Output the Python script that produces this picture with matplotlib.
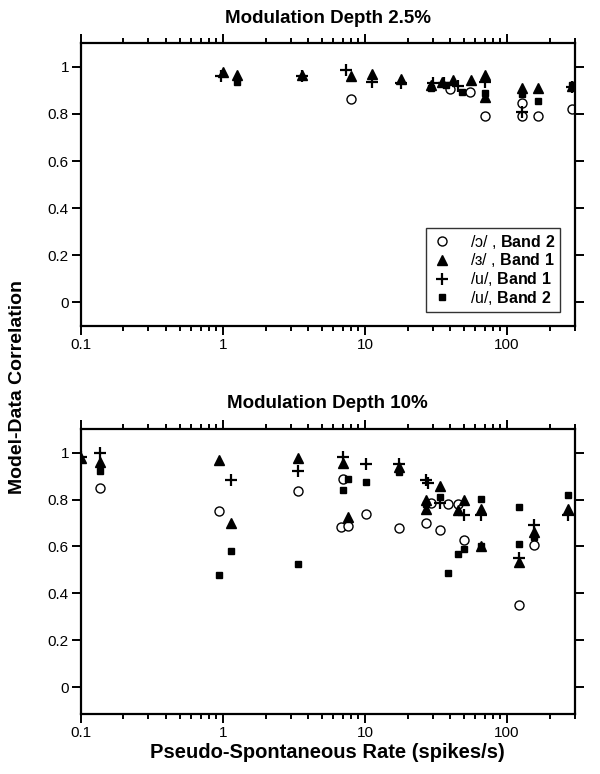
#!/usr/bin/env python3
'''
Model-data correlation vs pseudo-spontaneous rate, two modulation depths
'''
import matplotlib
matplotlib.use('Agg')
import matplotlib.pyplot as plt
from matplotlib.ticker import FixedLocator, LogLocator, NullFormatter, FuncFormatter

plt.rcParams['font.family'] = ['Liberation Sans', 'DejaVu Sans']
plt.rcParams['mathtext.fontset'] = 'custom'
plt.rcParams['mathtext.rm'] = 'Liberation Sans'
plt.rcParams['mathtext.bf'] = 'Liberation Sans:bold'

# Modulation depth 2.5%
top_o2_x = [8.0, 40, 55, 70, 128, 128, 165, 285]
top_o2_y = [0.864, 0.905, 0.895, 0.79, 0.845, 0.79, 0.79, 0.82]
top_e1_x = [1.0, 1.25, 3.6, 8.0, 11.3, 18, 29, 35, 42, 56, 70, 70, 128, 165, 285]
top_e1_y = [0.98, 0.965, 0.965, 0.96, 0.97, 0.95, 0.925, 0.935, 0.945, 0.945,
            0.965, 0.87, 0.91, 0.91, 0.92]
top_u1_x = [0.97, 3.6, 7.4, 11.3, 18, 30, 36, 45, 70, 128, 285]
top_u1_y = [0.96, 0.96, 0.985, 0.935, 0.93, 0.93, 0.93, 0.92, 0.935, 0.81, 0.915]
top_u2_x = [1.25, 29, 37, 48, 70, 128, 165, 285]
top_u2_y = [0.935, 0.91, 0.925, 0.895, 0.89, 0.885, 0.855, 0.925]

# Modulation depth 10%
bot_o2_x = [0.137, 0.94, 3.38, 7.0, 6.8, 7.6, 10.2, 17.3, 27, 29, 33.5, 38.3, 45, 50, 121, 156]
bot_o2_y = [0.851, 0.751, 0.836, 0.889, 0.683, 0.688, 0.737, 0.68, 0.70, 0.785,
            0.668, 0.782, 0.78, 0.626, 0.349, 0.605]
bot_e1_x = [0.1, 0.137, 0.94, 1.15, 3.38, 7.0, 7.6, 17.3, 27, 27, 33.5, 45, 50,
            66, 66, 121, 156, 267]
bot_e1_y = [0.975, 0.96, 0.967, 0.70, 0.979, 0.955, 0.725, 0.94, 0.80, 0.76,
            0.856, 0.754, 0.80, 0.761, 0.602, 0.533, 0.661, 0.761]
bot_u1_x = [0.1, 0.137, 1.15, 3.38, 7.0, 10.2, 17.3, 27, 28, 33.5, 50, 66, 121, 156, 267]
bot_u1_y = [0.98, 0.998, 0.885, 0.92, 0.981, 0.953, 0.95, 0.882, 0.87, 0.783,
            0.733, 0.733, 0.55, 0.69, 0.733]
bot_u2_x = [0.137, 0.94, 1.15, 3.38, 7.0, 7.6, 10.2, 17.3, 27, 33.5, 38.3, 45, 50,
            66, 66, 121, 121, 156, 267]
bot_u2_y = [0.921, 0.479, 0.579, 0.523, 0.839, 0.889, 0.875, 0.917, 0.782, 0.81,
            0.488, 0.569, 0.59, 0.804, 0.60, 0.768, 0.612, 0.64, 0.821]

labels = [r'/ɔ/ , $\mathbf{Band\ 2}$', r'/ɜ/ , $\mathbf{Band\ 1}$',
          r'/u/, $\mathbf{Band\ 1}$', r'/u/, $\mathbf{Band\ 2}$']
x_ticks = [0.1, 1, 10, 100]
y_ticks = [0, 0.2, 0.4, 0.6, 0.8, 1]


def style_axis(ax, ylim):
    ''' Log x axis with outward ticks on every side '''
    ax.set_xscale('log')
    ax.set_xlim(0.1, 300)
    ax.set_ylim(*ylim)
    ax.xaxis.set_major_locator(FixedLocator(x_ticks))
    ax.xaxis.set_major_formatter(FuncFormatter(lambda v, p: '%g' % v))
    ax.xaxis.set_minor_locator(LogLocator(base=10, subs=range(2, 10)))
    ax.xaxis.set_minor_formatter(NullFormatter())
    ax.yaxis.set_major_locator(FixedLocator(y_ticks))
    ax.yaxis.set_major_formatter(FuncFormatter(lambda v, p: '%g' % v))
    ax.tick_params(which='both', direction='out', top=True, right=True,
                   width=1.4, labelsize=11, pad=2)
    ax.tick_params(which='major', length=6.5)
    ax.tick_params(which='minor', length=3.5)
    for s in ax.spines.values():
        s.set_linewidth(1.6)


def plot_panel(ax, title, o2, e1, u1, u2, ylim, legend=False):
    ''' Scatter the four series on one panel '''
    ax.plot(*o2, 'o', ms=6.5, mfc='white', mec='black', mew=1.0, ls='none', label=labels[0])
    ax.plot(*e1, '^', ms=7.5, color='black', ls='none', label=labels[1])
    ax.plot(*u1, '+', ms=8, color='black', mew=1.6, ls='none', label=labels[2])
    ax.plot(*u2, 's', ms=5, color='black', ls='none', label=labels[3])
    style_axis(ax, ylim)
    ax.set_title(title, fontsize=13.5, fontweight='bold', pad=15)
    if legend:
        leg = ax.legend(loc='lower right', bbox_to_anchor=(0.97, 0.05),
                        borderaxespad=0, fontsize=11.5, frameon=True,
                        fancybox=False, edgecolor='black', handlelength=1.4,
                        handletextpad=1.0, borderpad=0.3, labelspacing=0.05)
        leg.get_frame().set_linewidth(1.0)


def main():
    ''' Run the main module '''
    fig = plt.figure(figsize=(6, 7.74), dpi=100)
    ax1 = fig.add_axes([0.1345, 0.579, 0.8235, 0.365])
    ax2 = fig.add_axes([0.1345, 0.0775, 0.8235, 0.368])

    plot_panel(ax1, 'Modulation Depth 2.5%',
               (top_o2_x, top_o2_y), (top_e1_x, top_e1_y),
               (top_u1_x, top_u1_y), (top_u2_x, top_u2_y),
               (-0.1, 1.1), legend=True)
    plot_panel(ax2, 'Modulation Depth 10%',
               (bot_o2_x, bot_o2_y), (bot_e1_x, bot_e1_y),
               (bot_u1_x, bot_u1_y), (bot_u2_x, bot_u2_y),
               (-0.115, 1.1))

    ax2.set_xlabel('Pseudo-Spontaneous Rate (spikes/s)', fontsize=14.5,
                   fontweight='bold', labelpad=2)
    fig.text(0.03, 0.5, 'Model-Data Correlation', rotation=90, fontsize=14,
             fontweight='bold', ha='center', va='center')

    fig.savefig('out.png', dpi=100, facecolor='white')


if __name__ == "__main__":
    main()
